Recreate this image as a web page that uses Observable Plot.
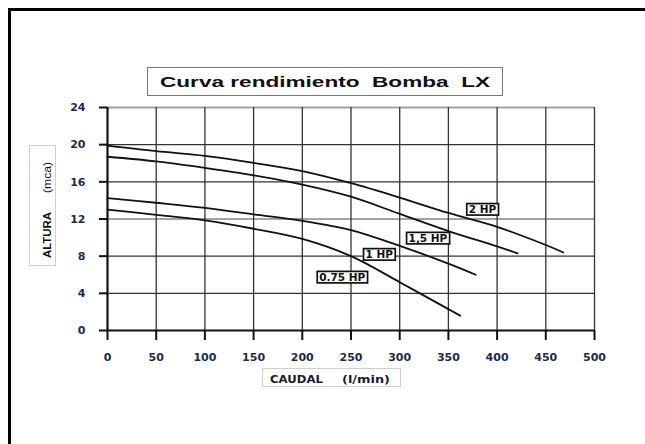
<!DOCTYPE html>
<html><head><meta charset="utf-8">
<script src="https://cdn.jsdelivr.net/npm/d3@7"></script>
<script src="https://cdn.jsdelivr.net/npm/@observablehq/plot@0.6"></script>
<style>
body{margin:0;background:#fff;}
#chart{position:relative;width:645px;height:444px;overflow:hidden;}
svg text{font-family:"DejaVu Sans",sans-serif;}
g[aria-label^="x-axis"] text, g[aria-label^="y-axis"] text{fill:#1c2b4a;font-weight:bold;font-size:11px;font-family:"DejaVu Sans",sans-serif;}
g[aria-label^="x-axis"] line, g[aria-label^="y-axis"] line, g[aria-label^="x-axis"] path, g[aria-label^="y-axis"] path{stroke:#111;stroke-width:2px;}
</style></head><body><div id="chart"></div>
<script>
// Tick values
const xTicks = [0, 50, 100, 150, 200, 250, 300, 350, 400, 450, 500];
const yTicks = [0, 4, 8, 12, 16, 20, 24];
const yGridLight = [12, 24];

// Series (caudal l/min, altura mca)
const q2HP  = [0, 50, 100, 150, 200, 250, 300, 350, 400, 450, 468];
const h2HP  = [19.9, 19.3, 18.8, 18.05, 17.15, 15.85, 14.3, 12.65, 11.15, 9.2, 8.4];
const q15HP = [0, 50, 100, 150, 200, 250, 300, 350, 400, 421];
const h15HP = [18.7, 18.2, 17.5, 16.7, 15.7, 14.4, 12.55, 10.7, 9.05, 8.3];
const q1HP  = [0, 50, 100, 150, 200, 250, 300, 350, 378];
const h1HP  = [14.25, 13.75, 13.2, 12.5, 11.8, 10.8, 9.1, 7.2, 6.0];
const q075HP = [0, 50, 100, 150, 200, 250, 300, 350, 362];
const h075HP = [13.0, 12.45, 11.85, 10.95, 9.85, 8.0, 5.2, 2.3, 1.6];

// Curve labels
const labelNames = ["2 HP", "1,5 HP", "1 HP", "0.75 HP"];
const labelX = [385, 329, 279, 241];
const labelY = [13.0, 9.9, 8.15, 5.7];

const series = [
  {name: "2 HP", q: q2HP, h: h2HP},
  {name: "1,5 HP", q: q15HP, h: h15HP},
  {name: "1 HP", q: q1HP, h: h1HP},
  {name: "0.75 HP", q: q075HP, h: h075HP}
];
const rows = series.flatMap(s => s.q.map((q, i) => ({pump: s.name, q, h: s.h[i]})));

const plot = Plot.plot({
  width: 645, height: 444,
  marginLeft: 107, marginRight: 51, marginTop: 107, marginBottom: 114,
  style: {background: "transparent", color: "#111", overflow: "visible"},
  x: {domain: [0, 500], ticks: xTicks, tickSize: 10, tickPadding: 13, label: null},
  y: {domain: [0, 24], ticks: yTicks, tickSize: 8, tickPadding: 14, label: null},
  marks: [
    Plot.ruleY(yTicks.filter(d => d > 0 && !yGridLight.includes(d)), {stroke: "#333", strokeWidth: 1.3}),
    Plot.ruleY(yGridLight, {stroke: "#a3a3a3", strokeWidth: 2}),
    Plot.ruleX(xTicks.filter(d => d > 0), {stroke: "#333", strokeWidth: 1.3}),
    Plot.ruleX([0], {stroke: "#111", strokeWidth: 2.2}),
    Plot.ruleY([0], {stroke: "#111", strokeWidth: 2.2}),
    Plot.line(rows, {x: "q", y: "h", z: "pump", stroke: "#111", strokeWidth: 1.8, curve: "catmull-rom"}),
    Plot.text(labelNames, {x: (d, i) => labelX[i], y: (d, i) => labelY[i], text: d => d,
      fontFamily: "DejaVu Sans", fontWeight: "bold", fontSize: 10.5, fill: "#111"})
  ]
});

const chart = document.getElementById("chart");
chart.appendChild(plot);
const svg = d3.select(plot);

// y tick labels sit slightly above their gridline
svg.selectAll('g[aria-label^="y-axis"] text').attr("dy", "0.02em");

// Boxes behind curve labels
const labelTexts = [];
plot.querySelectorAll("text").forEach(t => { if (labelNames.includes(t.textContent)) labelTexts.push(t); });
labelTexts.forEach(t => {
  const b = t.getBBox();
  const r = document.createElementNS("http://www.w3.org/2000/svg", "rect");
  r.setAttribute("x", b.x - 2);
  r.setAttribute("y", b.y + 0.5);
  r.setAttribute("width", b.width + 4);
  r.setAttribute("height", b.height - 0.5);
  r.setAttribute("fill", "#fff");
  r.setAttribute("stroke", "#111");
  r.setAttribute("stroke-width", 1.7);
  const tr = t.getAttribute("transform");
  if (tr) r.setAttribute("transform", tr);
  t.parentNode.insertBefore(r, t);
});

// Frame (left and top edges)
svg.append("line").attr("x1", 9.5).attr("x2", 9.5).attr("y1", 8).attr("y2", 444).attr("stroke", "#000").attr("stroke-width", 3);
svg.append("line").attr("x1", 8).attr("x2", 645).attr("y1", 9.5).attr("y2", 9.5).attr("stroke", "#000").attr("stroke-width", 3);

// Title box
svg.append("rect").attr("x", 147.5).attr("y", 67.5).attr("width", 355).attr("height", 28)
  .attr("fill", "#fff").attr("stroke", "#777").attr("stroke-width", 1);
svg.append("text").attr("x", 160).attr("y", 87).attr("text-anchor", "start").attr("textLength", 330).attr("lengthAdjust", "spacingAndGlyphs")
  .style("font-family", "'Liberation Sans', Arial, sans-serif").style("font-weight", "bold").style("font-size", "15.5px")
  .attr("fill", "#111").text("Curva rendimiento  Bomba  LX");

// Y axis label box
svg.append("rect").attr("x", 29.5).attr("y", 145.5).attr("width", 26).attr("height", 120)
  .attr("fill", "none").attr("stroke", "#cfcfcf").attr("stroke-width", 1);
svg.append("text").attr("transform", "translate(50.5,258) rotate(-90)").attr("text-anchor", "start").attr("textLength", 46).attr("lengthAdjust", "spacingAndGlyphs")
  .style("font-family", "'Liberation Sans', Arial, sans-serif").style("font-weight", "bold").style("font-size", "11px")
  .attr("fill", "#111").text("ALTURA");
svg.append("text").attr("transform", "translate(50.5,193) rotate(-90)").attr("text-anchor", "start").attr("textLength", 31).attr("lengthAdjust", "spacingAndGlyphs")
  .style("font-family", "'Liberation Sans', Arial, sans-serif").style("font-size", "11px")
  .attr("fill", "#111").text("(mca)");

// X axis label box
svg.append("rect").attr("x", 262.5).attr("y", 368.5).attr("width", 138).attr("height", 18)
  .attr("fill", "none").attr("stroke", "#cfcfcf").attr("stroke-width", 1);
svg.append("text").attr("x", 270).attr("y", 383).attr("text-anchor", "start").attr("textLength", 53).attr("lengthAdjust", "spacingAndGlyphs")
  .style("font-family", "'DejaVu Sans', sans-serif").style("font-weight", "bold").style("font-size", "11px")
  .attr("fill", "#1a1a2a").text("CAUDAL");
svg.append("text").attr("x", 342).attr("y", 383).attr("text-anchor", "start").attr("textLength", 48).attr("lengthAdjust", "spacingAndGlyphs")
  .style("font-family", "'DejaVu Sans', sans-serif").style("font-weight", "bold").style("font-size", "11px")
  .attr("fill", "#1a1a2a").text("(l/min)");
</script>
</body></html>
